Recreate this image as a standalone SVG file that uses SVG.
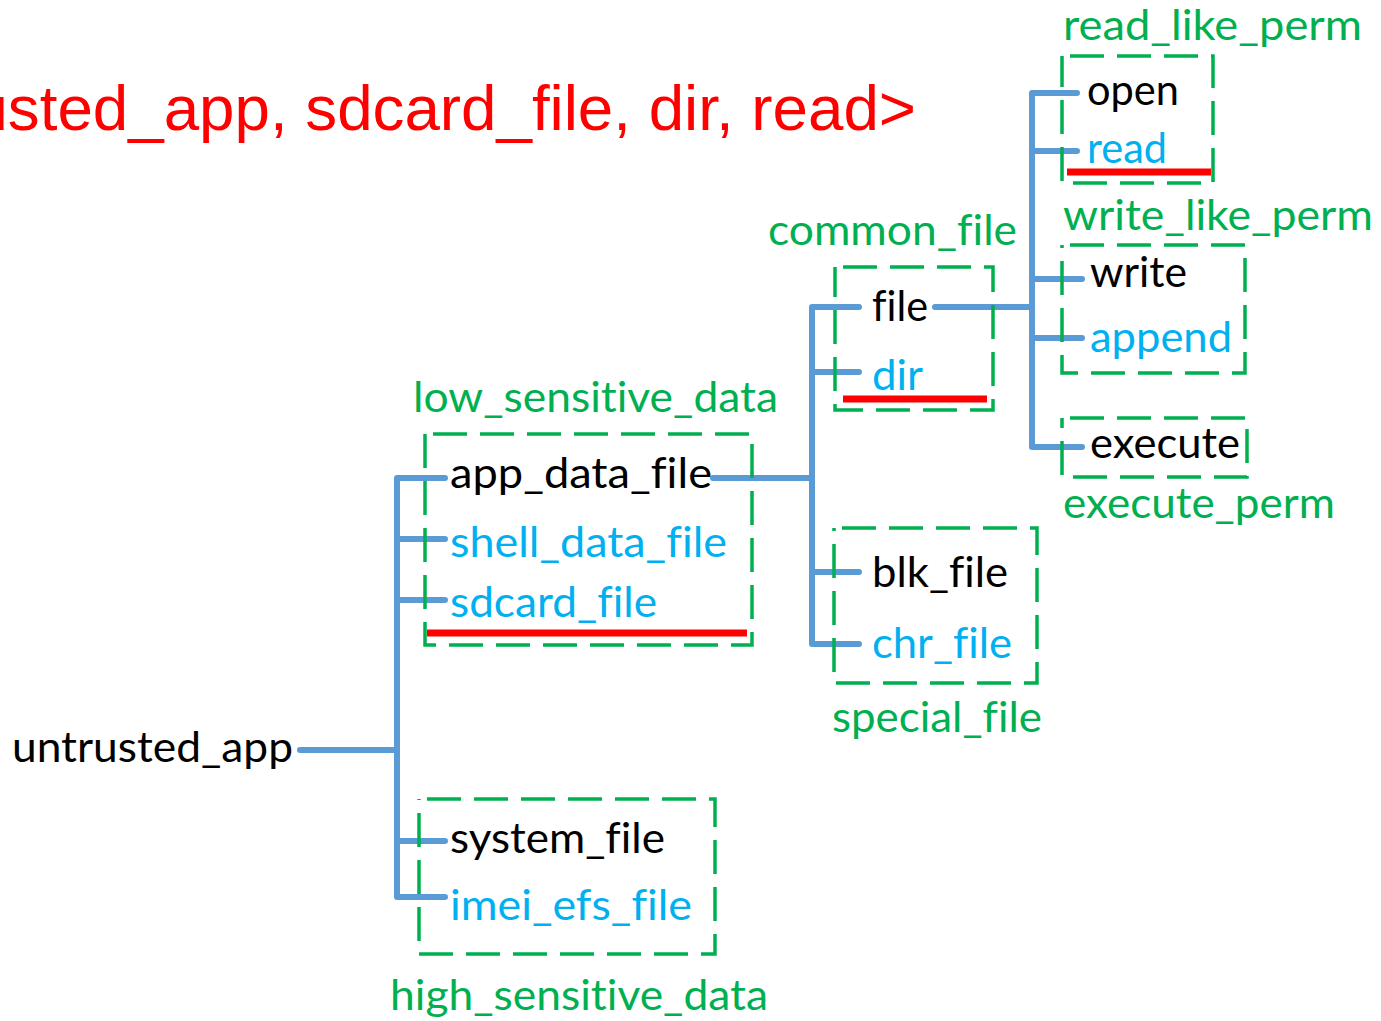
<svg xmlns="http://www.w3.org/2000/svg" width="1381" height="1021" viewBox="0 0 1381 1021">
  <style>
    .lbl { font-family: Lato, "Open Sans", "Liberation Sans", sans-serif; font-size: 42px; font-variant-ligatures: none; font-feature-settings: "liga" 0, "clig" 0; }
    .blk { fill: #000000; }
    .blu { fill: #00B0F0; }
    .grn { fill: #00B050; }
    .grp { fill: none; stroke: #00B050; stroke-width: 3.5; stroke-dasharray: 34 13; stroke-dashoffset: -8; }
    .hit { stroke: #FF0000; stroke-width: 7; stroke-linecap: butt; }
    .wire { fill: none; stroke: #5B9BD5; stroke-width: 6; stroke-linecap: round; stroke-linejoin: round; }
    .title { font-family: "Liberation Sans", Arial, sans-serif; font-size: 63.7px; fill: #FF0000; }
  </style>

  <rect width="1381" height="1021" fill="#FFFFFF"/>

  <!-- query tuple, running off the left edge -->
  <text class="title" x="916" y="130" text-anchor="end">&lt;untrusted_app, sdcard_file, dir, read&gt;</text>

  <!-- tree connectors -->
  <g id="connectors">
    <path class="wire" d="M300 750 H397"/>
    <path class="wire" d="M445 478 H397 V897 H445 M397 539 H445 M397 600 H445 M397 841 H445"/>
    <path class="wire" d="M713 478 H812"/>
    <path class="wire" d="M859 307 H812 V644 H859 M812 372 H859 M812 572 H859"/>
    <path class="wire" d="M935 307 H1032"/>
    <path class="wire" d="M1077 93 H1032 V447 H1082 M1032 151 H1077 M1032 279 H1082 M1032 338 H1082"/>
  </g>

  <!-- subject -->
  <g id="untrusted_app">
    <text class="lbl blk" x="12" y="762" textLength="281" lengthAdjust="spacingAndGlyphs">untrusted_app</text>
  </g>

  <!-- low sensitivity data types -->
  <g id="low_sensitive_data">
    <rect class="grp" x="425" y="434" width="327" height="211"/>
    <text class="lbl grn" x="413" y="412" textLength="365" lengthAdjust="spacingAndGlyphs">low_sensitive_data</text>
  </g>
  <g id="app_data_file">
    <text class="lbl blk" x="450" y="488" textLength="262" lengthAdjust="spacingAndGlyphs">app_data_file</text>
  </g>
  <g id="shell_data_file">
    <text class="lbl blu" x="450" y="557" textLength="277" lengthAdjust="spacingAndGlyphs">shell_data_file</text>
  </g>
  <g id="sdcard_file">
    <text class="lbl blu" x="450" y="617" textLength="207" lengthAdjust="spacingAndGlyphs">sdcard_file</text>
    <line class="hit" x1="427" y1="633" x2="747" y2="633"/>
  </g>

  <!-- high sensitivity data types -->
  <g id="high_sensitive_data">
    <rect class="grp" x="419" y="799" width="296" height="155"/>
    <text class="lbl grn" x="390" y="1010" textLength="378" lengthAdjust="spacingAndGlyphs">high_sensitive_data</text>
  </g>
  <g id="system_file">
    <text class="lbl blk" x="450" y="853" textLength="215" lengthAdjust="spacingAndGlyphs">system_file</text>
  </g>
  <g id="imei_efs_file">
    <text class="lbl blu" x="450" y="920" textLength="242" lengthAdjust="spacingAndGlyphs">imei_efs_file</text>
  </g>

  <!-- object classes -->
  <g id="common_file">
    <rect class="grp" x="835" y="267" width="158" height="143"/>
    <text class="lbl grn" x="768" y="245" textLength="249" lengthAdjust="spacingAndGlyphs">common_file</text>
  </g>
  <g id="file">
    <text class="lbl blk" x="872" y="321" textLength="56" lengthAdjust="spacingAndGlyphs">file</text>
  </g>
  <g id="dir">
    <text class="lbl blu" x="872" y="390" textLength="51" lengthAdjust="spacingAndGlyphs">dir</text>
    <line class="hit" x1="843" y1="399" x2="987" y2="399"/>
  </g>

  <g id="special_file">
    <rect class="grp" x="834" y="528" width="203" height="155"/>
    <text class="lbl grn" x="832" y="732" textLength="210" lengthAdjust="spacingAndGlyphs">special_file</text>
  </g>
  <g id="blk_file">
    <text class="lbl blk" x="872" y="587" textLength="136" lengthAdjust="spacingAndGlyphs">blk_file</text>
  </g>
  <g id="chr_file">
    <text class="lbl blu" x="872" y="658" textLength="140" lengthAdjust="spacingAndGlyphs">chr_file</text>
  </g>

  <!-- permissions -->
  <g id="read_like_perm">
    <rect class="grp" x="1062" y="56" width="151" height="127"/>
    <text class="lbl grn" x="1063" y="40" textLength="299" lengthAdjust="spacingAndGlyphs">read_like_perm</text>
  </g>
  <g id="open">
    <text class="lbl blk" x="1087" y="105" textLength="92" lengthAdjust="spacingAndGlyphs">open</text>
  </g>
  <g id="read">
    <text class="lbl blu" x="1087" y="163" textLength="80" lengthAdjust="spacingAndGlyphs">read</text>
    <line class="hit" x1="1067" y1="172" x2="1211" y2="172"/>
  </g>

  <g id="write_like_perm">
    <rect class="grp" x="1062" y="245" width="183" height="128"/>
    <text class="lbl grn" x="1063" y="230" textLength="310" lengthAdjust="spacingAndGlyphs">write_like_perm</text>
  </g>
  <g id="write">
    <text class="lbl blk" x="1090" y="287" textLength="97" lengthAdjust="spacingAndGlyphs">write</text>
  </g>
  <g id="append">
    <text class="lbl blu" x="1090" y="352" textLength="142" lengthAdjust="spacingAndGlyphs">append</text>
  </g>

  <g id="execute_perm">
    <rect class="grp" x="1062" y="418" width="185" height="59"/>
    <text class="lbl grn" x="1063" y="518" textLength="272" lengthAdjust="spacingAndGlyphs">execute_perm</text>
  </g>
  <g id="execute">
    <text class="lbl blk" x="1090" y="458" textLength="150" lengthAdjust="spacingAndGlyphs">execute</text>
  </g>
</svg>
